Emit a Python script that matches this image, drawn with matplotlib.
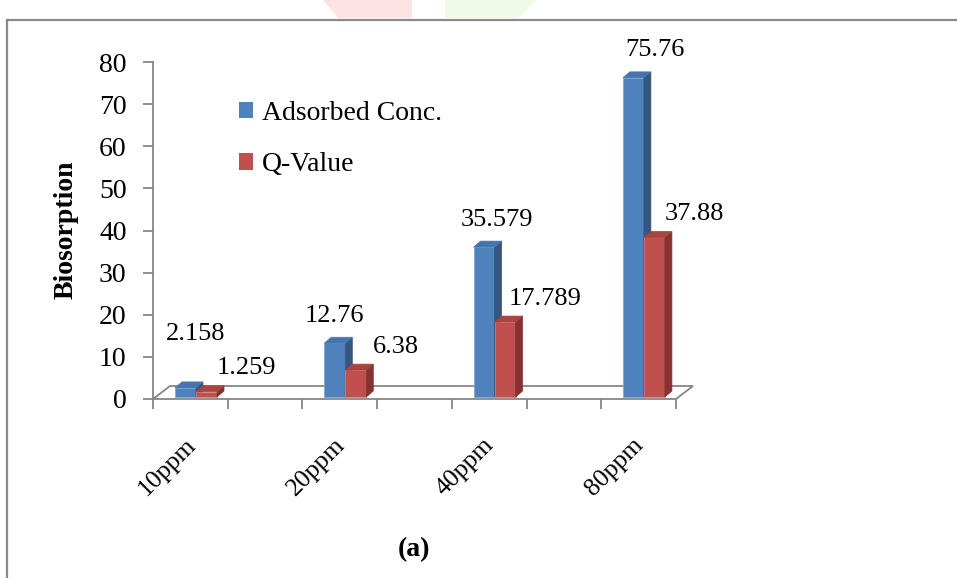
import numpy as np
import matplotlib.pyplot as plt
from matplotlib.patches import Polygon, Patch
from matplotlib.lines import Line2D

# data
categories = ['10ppm', '20ppm', '40ppm', '80ppm']
adsorbed = [2.158, 12.76, 35.579, 75.76]
q_value = [1.259, 6.38, 17.789, 37.88]
series_names = ['Adsorbed Conc.', 'Q-Value']
y_ticks = [0, 10, 20, 30, 40, 50, 60, 70, 80]

# small horizontal nudges (pixels) for the blue value labels, as placed in the original
blue_label_dx = [10, 0, 13, 22]

W, H = 957, 578
plt.rcParams['font.family'] = ['Liberation Serif', 'DejaVu Serif']

BLUE = ('#4f81bd', '#35567f', '#4674ad')   # front, side, top
RED = ('#c0504d', '#853230', '#a94441')
GRAY = '#868686'

fig = plt.figure(figsize=(W / 100, H / 100), dpi=100)
ax = fig.add_axes([153 / W, 1 - 399 / H, 523 / W, 337 / H])
x_lo, x_hi = -0.288, 3.215
ax.set_xlim(x_lo, x_hi)
ax.set_ylim(0, 80)

# pixel -> data helpers
px_x = (x_hi - x_lo) / 523
px_y = 80 / 337

bar_w = 21 * px_x
dx, dy = 7 * px_x, 6 * px_y
base = 2 * px_y


def draw_bar(x0, h, colors, edge):
    """Pseudo 3D bar: front face, right side and top."""
    front, side, top = colors
    y1 = base + h
    ax.add_patch(Polygon([(x0, base), (x0 + bar_w, base), (x0 + bar_w, y1), (x0, y1)],
                         closed=True, fc=front, ec=edge, lw=0.5, zorder=3))
    ax.add_patch(Polygon([(x0 + bar_w, base), (x0 + bar_w + dx, base + dy),
                          (x0 + bar_w + dx, y1 + dy), (x0 + bar_w, y1)],
                         closed=True, fc=side, ec=side, lw=0.5, zorder=3))
    ax.add_patch(Polygon([(x0, y1), (x0 + bar_w, y1), (x0 + bar_w + dx, y1 + dy),
                          (x0 + dx, y1 + dy)],
                         closed=True, fc=top, ec=top, lw=0.5, zorder=3))


# floor
fdx, fdy = 17 * px_x, 13 * px_y
ax.add_patch(Polygon([(x_lo, 0), (x_hi, 0), (x_hi + fdx, fdy), (x_lo + fdx, fdy)],
                     closed=True, fc='white', ec=GRAY, lw=1.3, zorder=1, clip_on=False))

for i in range(len(categories)):
    draw_bar(i - bar_w, adsorbed[i], BLUE, '#7fa2cf')
    draw_bar(i, q_value[i], RED, '#d98482')

    # data labels
    ax.text(i - bar_w / 2 + blue_label_dx[i] * px_x, max(adsorbed[i] + 7, 15.5),
            str(adsorbed[i]), ha='center', va='center', fontsize=19, clip_on=False)
    ax.text(i + bar_w / 2 + 40 * px_x, q_value[i] + 6, str(q_value[i]),
            ha='center', va='center', fontsize=19, clip_on=False)

    # category labels
    ax.text(i - 4 * px_x, -43 * px_y, categories[i], rotation=45, rotation_mode='anchor',
            ha='right', va='center', fontsize=18.5, clip_on=False)

# axes styling
for s in ['top', 'right', 'bottom']:
    ax.spines[s].set_visible(False)
ax.spines['left'].set_color(GRAY)
ax.spines['left'].set_linewidth(1.3)
ax.set_yticks(y_ticks)
ax.set_xticks(np.linspace(x_lo, x_hi, 8))
ax.set_xticklabels([])
ax.tick_params(axis='y', direction='out', length=7, width=1.3, color=GRAY,
               labelsize=20, pad=12)
ax.tick_params(axis='x', direction='out', length=7, width=1.3, color=GRAY)
ax.patch.set_visible(False)

fig.text(66 / W, 1 - 230 / H, 'Biosorption', rotation=90, fontweight='bold',
         fontsize=20, ha='center', va='center')
fig.text(414 / W, 1 - 550 / H, '(a)', fontweight='bold', fontsize=20,
         ha='center', va='center')

handles = [Patch(fc=BLUE[0], ec='none'), Patch(fc=RED[0], ec='none')]
ax.legend(handles, series_names, loc='upper left', bbox_to_anchor=(239 / W, 1 - 101 / H),
          bbox_transform=fig.transFigure, frameon=False, fontsize=20,
          handlelength=0.52, handleheight=0.52, handletextpad=0.3,
          labelspacing=0.95, borderpad=0, borderaxespad=0)

# faint watermark shapes at the top edge
fig.add_artist(Polygon([(323 / W, 1), (412 / W, 1), (412 / W, 1 - 18 / H), (338 / W, 1 - 18 / H)],
                       closed=True, fc='#fde3e3', ec='none', transform=fig.transFigure))
fig.add_artist(Polygon([(445 / W, 1), (537 / W, 1), (518 / W, 1 - 18 / H), (445 / W, 1 - 18 / H)],
                       closed=True, fc='#effbe8', ec='none', transform=fig.transFigure))

# chart frame
fig.add_artist(Line2D([7 / W, 7 / W], [0, 1 - 20 / H], color='#8a8a8a', lw=1.6,
                      transform=fig.transFigure))
fig.add_artist(Line2D([7 / W, 1], [1 - 20 / H, 1 - 20 / H], color='#8a8a8a', lw=1.6,
                      transform=fig.transFigure))

fig.savefig('out.png', dpi=100)
